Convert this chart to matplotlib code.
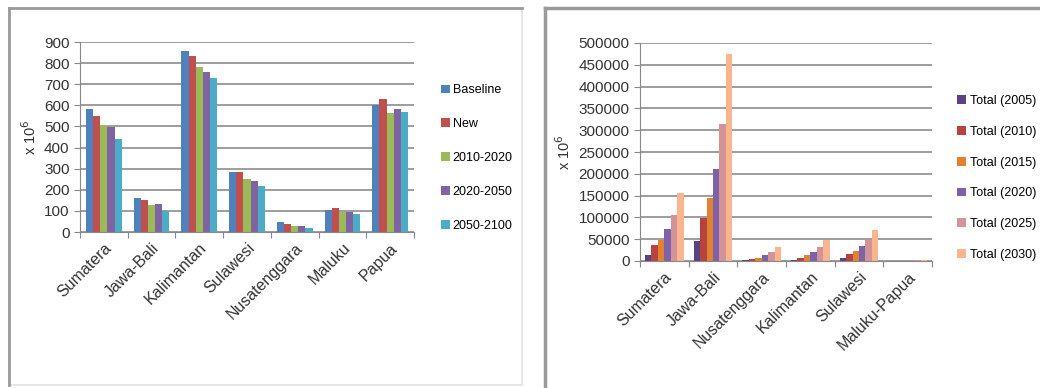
import matplotlib.pyplot as plt
import numpy as np
from matplotlib.patches import Rectangle
from matplotlib.lines import Line2D

plt.rcParams['font.family'] = ['Liberation Sans', 'DejaVu Sans']

# left chart
regions_a = ['Sumatera', 'Jawa-Bali', 'Kalimantan', 'Sulawesi', 'Nusatenggara', 'Maluku', 'Papua']
series_a = ['Baseline', 'New', '2010-2020', '2020-2050', '2050-2100']
baseline = [584, 162, 856, 283, 47, 105, 601]
new = [548, 151, 832, 282, 38, 112, 628]
s2010 = [505, 126, 783, 252, 27, 96, 565]
s2020 = [499, 133, 758, 241, 27, 96, 585]
s2050 = [439, 99, 730, 216, 19, 87, 568]
colors_a = ['#4F81BD', '#C0504D', '#9BBB59', '#8064A2', '#4BACC6']

# right chart
regions_b = ['Sumatera', 'Jawa-Bali', 'Nusatenggara', 'Kalimantan', 'Sulawesi', 'Maluku-Papua']
series_b = ['Total (2005)', 'Total (2010)', 'Total (2015)', 'Total (2020)', 'Total (2025)', 'Total (2030)']
t2005 = [14600, 46000, 2300, 2300, 6100, 200]
t2010 = [36800, 98000, 4600, 7700, 15300, 300]
t2015 = [49000, 143400, 7700, 14600, 23000, 500]
t2020 = [72900, 211700, 13000, 20700, 33700, 800]
t2025 = [105000, 314000, 20000, 32000, 47500, 1800]
t2030 = [155000, 474700, 31400, 47500, 70500, 1500]
colors_b = ['#5B4281', '#B9413E', '#E0822F', '#7E62A8', '#D49398', '#F9B68E']

fig = plt.figure(figsize=(10.4, 3.88), dpi=100)

# panel frames
fig.patches.append(Rectangle((9 / 1040, 3 / 388), 513 / 1040, 377 / 388, transform=fig.transFigure,
                             fill=False, edgecolor='#e2e2e2', lw=1.2))
fig.lines.append(Line2D([9 / 1040, 9 / 1040], [3 / 388, 380 / 388], transform=fig.transFigure, color='#9a9a9a', lw=2))
fig.lines.append(Line2D([9 / 1040, 522 / 1040], [380 / 388, 380 / 388], transform=fig.transFigure, color='#9a9a9a', lw=2))
fig.lines.append(Line2D([545 / 1040, 545 / 1040], [0, 380 / 388], transform=fig.transFigure, color='#9a9a9a', lw=2.5))
fig.lines.append(Line2D([545 / 1040, 1], [380 / 388, 380 / 388], transform=fig.transFigure, color='#9a9a9a', lw=2.5))


def style(ax, n):
    ax.set_xlim(0, n)
    ax.set_xticks(np.arange(n + 1), minor=False)
    ax.set_xticklabels([])
    ax.set_xticks(np.arange(n) + 0.5, minor=True)
    ax.tick_params(axis='x', which='major', length=4, color='#888888')
    ax.tick_params(axis='x', which='minor', length=0, pad=6)
    ax.tick_params(axis='y', length=4, color='#888888', labelsize=11, labelcolor='#333333')
    for s in ['top', 'right']:
        ax.spines[s].set_visible(False)
    ax.spines['left'].set_color('#888888')
    ax.spines['bottom'].set_color('#888888')
    ax.yaxis.grid(True, color='#8c8c8c', lw=1.2)
    ax.set_axisbelow(True)


ax1 = fig.add_axes([80 / 1040, 156 / 388, 334 / 1040, 190 / 388])
vals_a = [baseline, new, s2010, s2020, s2050]
w = 0.15
x = np.arange(len(regions_a))
for i, (v, c, lab) in enumerate(zip(vals_a, colors_a, series_a)):
    ax1.bar(x + 0.5 + (i - 2) * w, v, w, color=c, label=lab)
style(ax1, len(regions_a))
ax1.set_ylim(0, 900)
ax1.set_yticks(range(0, 901, 100))
ax1.set_xticks(x + 0.5, regions_a, minor=True, rotation=45, ha='right', rotation_mode='anchor',
               fontsize=11.5, color='#333333')
ax1.set_ylabel('x 10$^6$', fontsize=10.5, color='#333333', labelpad=4)
ax1.legend(loc='center left', bbox_to_anchor=(430 / 1040, 230 / 388), bbox_transform=fig.transFigure,
           frameon=False, fontsize=9, handlelength=0.7, handleheight=0.7, handletextpad=0.2,
           labelspacing=1.75)

ax2 = fig.add_axes([640 / 1040, 127 / 388, 292 / 1040, 218 / 388])
vals_b = [t2005, t2010, t2015, t2020, t2025, t2030]
w = 0.133
x = np.arange(len(regions_b))
for i, (v, c, lab) in enumerate(zip(vals_b, colors_b, series_b)):
    ax2.bar(x + 0.5 + (i - 2.5) * w, v, w, color=c, label=lab)
style(ax2, len(regions_b))
ax2.set_ylim(0, 500000)
ax2.set_yticks(range(0, 500001, 50000))
ax2.set_xticks(x + 0.5, regions_b, minor=True, rotation=45, ha='right', rotation_mode='anchor',
               fontsize=11.5, color='#333333')
ax2.set_ylabel('x 10$^6$', fontsize=10.5, color='#333333', labelpad=4)
ax2.legend(loc='center left', bbox_to_anchor=(946 / 1040, 210 / 388), bbox_transform=fig.transFigure,
           frameon=False, fontsize=9, handlelength=0.7, handleheight=0.7, handletextpad=0.3,
           labelspacing=1.5)

plt.savefig('out.png')
